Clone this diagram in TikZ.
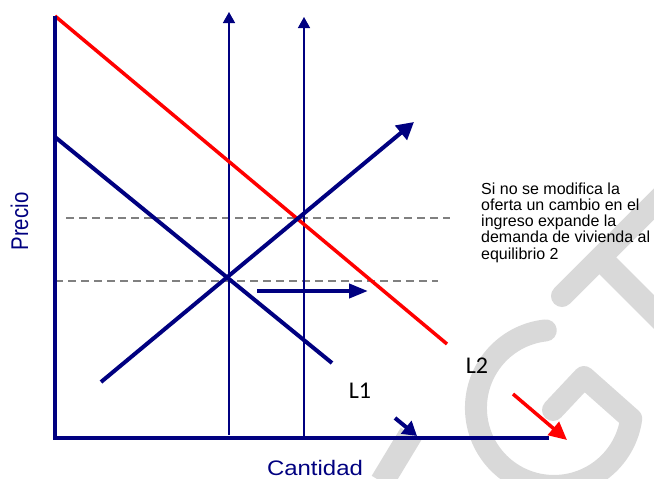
\documentclass[tikz,border=0pt]{standalone}
\usepackage{fontspec}
\setmainfont{Liberation Sans}
\newfontfamily\calfont{Carlito}
\usetikzlibrary{arrows.meta}
\definecolor{navy}{RGB}{0,0,128}
\definecolor{wmgray}{RGB}{217,217,217}
\definecolor{dashgray}{RGB}{128,128,128}
\begin{document}
\begin{tikzpicture}[x=1pt,y=-1pt,
  wmark/.style={wmgray, line width=22pt},
  axisline/.style={navy, line width=4pt, line join=miter},
  navyline/.style={navy, line width=4pt},
  redline/.style={red, line width=3.5pt},
  thinline/.style={navy, line width=1.5pt},
  guide/.style={dashgray, line width=1.2pt, dash pattern=on 8pt off 5pt},
  lbl/.style={font=\calfont\fontsize{24}{26}\selectfont, inner sep=0pt},
  note/.style={font=\fontsize{16}{18}\selectfont, inner sep=0pt, anchor=base west}]
\useasboundingbox (0,0) rectangle (654,479);
% watermark
\begin{scope}
\clip (0,0) rectangle (654,479);
\draw[wmark, line cap=round, line join=round]
  (545.8,330.4) arc[start angle=264, end angle=8, radius=78] -- (584,377) -- (553,410);
\draw[wmark, line cap=round] (562,296) -- (700,158);
\draw[wmark, line width=24pt] (600,258) -- (700,358);
\draw[wmark, line width=24pt] (411,434) -- (382,482);
\end{scope}
% coordinates
\coordinate (O) at (55,438);
\coordinate (Ytop) at (55,16);
\coordinate (Xend) at (549,438);
\coordinate (D2a) at (55,16);
\coordinate (D2b) at (447,344);
\coordinate (D1a) at (55,137);
\coordinate (D1b) at (332,363);
\coordinate (Sa) at (101,382);
\coordinate (Sb) at (414,122);
\coordinate (V1a) at (229,435);
\coordinate (V1b) at (229,12);
\coordinate (V2a) at (304,438);
\coordinate (V2b) at (304,17);
\coordinate (G1a) at (66,218);
\coordinate (G1b) at (450,218);
\coordinate (G2a) at (55,281);
\coordinate (G2b) at (438,281);
\coordinate (Ha) at (257,291);
\coordinate (Hb) at (368,291);
\coordinate (Sma) at (395,418);
\coordinate (Smb) at (417,436);
\coordinate (Ra) at (513,394);
\coordinate (Rb) at (567,440);
% guides
\draw[guide] (G1a) -- (G1b);
\draw[guide] (G2a) -- (G2b);
% verticals
\draw[thinline, -{Triangle[length=11pt,width=12pt]}] (V1a) -- (V1b);
\draw[thinline, -{Triangle[length=11pt,width=12pt]}] (V2a) -- (V2b);
% curves
\draw[redline] (D2a) -- (D2b);
\draw[navyline] (D1a) -- (D1b);
\draw[navyline, -{Triangle[length=17pt,width=18pt]}] (Sa) -- (Sb);
\draw[navyline, -{Triangle[length=19pt,width=14pt]}] (Ha) -- (Hb);
\draw[navyline, -{Triangle[length=14pt,width=16pt]}] (Sma) -- (Smb);
\draw[redline, -{Triangle[length=18pt,width=17pt]}] (Ra) -- (Rb);
% axes
\draw[axisline] (Ytop) -- (O) -- (Xend);
% labels
\node[lbl] (l1) at (360,391) {L1};
\node[lbl] (l2) at (477,366) {L2};
\node[inner sep=0pt, anchor=base, navy, font=\fontsize{21}{24}\selectfont] (cant) at (315,475) {\scalebox{1.14}[1]{Cantidad}};
\node[inner sep=0pt, anchor=base, rotate=90, navy, font=\fontsize{21}{24}\selectfont] (prec) at (28,221.5) {\scalebox{0.97}[1.15]{Precio}};
\node[note] (n1) at (481,194) {Si no se modifica la};
\node[note] (n2) at (481,210.25) {oferta un cambio en el};
\node[note] (n3) at (481,226.5) {ingreso expande la};
\node[note] (n4) at (481,242.75) {demanda de vivienda al};
\node[note] (n5) at (481,259) {equilibrio 2};
\end{tikzpicture}
\end{document}
